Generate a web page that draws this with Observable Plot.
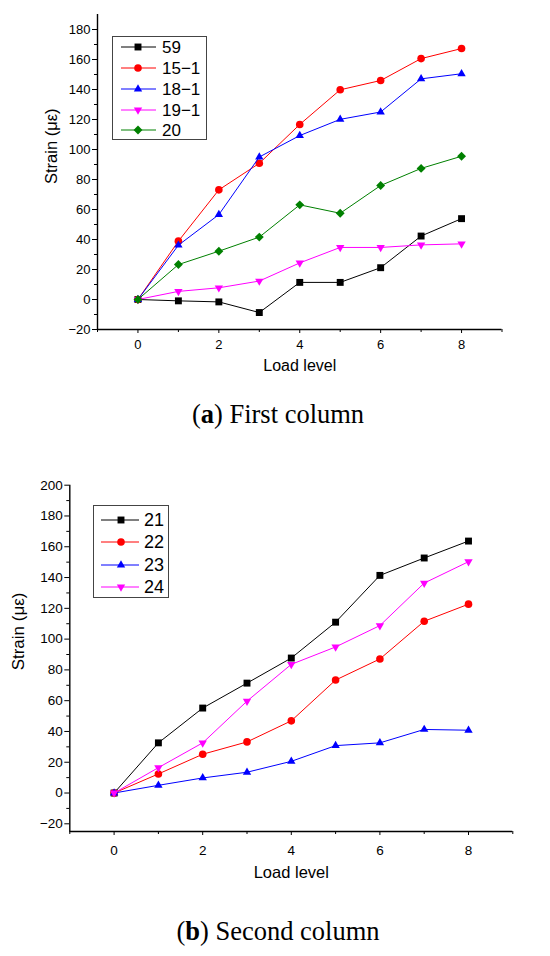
<!DOCTYPE html>
<html>
<head>
<meta charset="utf-8">
<script src="https://cdn.jsdelivr.net/npm/d3@7"></script>
<script src="https://cdn.jsdelivr.net/npm/@observablehq/plot@0.6"></script>
<style>
  body { margin: 0; background: white; }
  #page { position: relative; width: 550px; height: 956px; background: white; overflow: hidden; }
  .cap { position: absolute; left: 0; width: 556px; text-align: center; font-family: "Liberation Serif", serif; font-size: 26.5px; line-height: 26.5px; color: #000; }
  .pl { position: absolute; left: 0; }
  #legend { position: absolute; left: 0; top: 0; }
</style>
</head>
<body>
<div id="page">
  <div id="plotA" class="pl" style="top:0px"></div>
  <div class="cap" style="top:401px"><span>(<b>a</b>) First column</span></div>
  <div id="plotB" class="pl" style="top:470px"></div>
  <div class="cap" style="top:918px"><span>(<b>b</b>) Second column</span></div>
  <svg id="legend" width="550" height="956"></svg>
</div>
<script>
// ---- data ----
const loadLevels = [0, 1, 2, 3, 4, 5, 6, 7, 8];

const namesA = ["59", "15\u22121", "18\u22121", "19\u22121", "20"];
const s59   = [0, -0.9, -1.6, -8.7, 11.4, 11.4, 21.2, 42.3, 53.9];
const s15_1 = [0, 38.9, 73.1, 90.8, 116.7, 139.8, 146.0, 160.6, 167.3];
const s18_1 = [0, 36.2, 56.6, 95.0, 109.3, 120.1, 125.0, 147.1, 150.5];
const s19_1 = [0, 5.4, 7.8, 12.3, 24.4, 34.7, 34.7, 36.4, 37.1];
const s20   = [0, 23.3, 32.2, 41.6, 63.1, 57.5, 76.0, 87.4, 95.5];

const namesB = ["21", "22", "23", "24"];
const s21 = [0, 32.6, 55.2, 71.4, 87.7, 111.0, 141.4, 152.7, 163.7];
const s22 = [0, 12.4, 25.2, 33.2, 46.9, 73.4, 87.1, 111.6, 122.7];
const s23 = [0, 5.0, 9.8, 13.5, 20.6, 30.8, 32.6, 41.3, 40.8];
const s24 = [0, 16.5, 32.6, 59.7, 83.6, 94.9, 108.8, 136.4, 150.3];

const yTicksA = [-20, 0, 20, 40, 60, 80, 100, 120, 140, 160, 180];
const yTicksB = [-20, 0, 20, 40, 60, 80, 100, 120, 140, 160, 180, 200];
const xTicks = [0, 2, 4, 6, 8];
const xMinor = [-1, 1, 3, 5, 7, 9];

// ---- symbols ----
const triangleDown = {
  draw(ctx, size) {
    const y = Math.sqrt(size / (Math.sqrt(3) * 3));
    ctx.moveTo(0, 2 * y);
    ctx.lineTo(-Math.sqrt(3) * y, -y);
    ctx.lineTo(Math.sqrt(3) * y, -y);
    ctx.closePath();
  }
};
const symMap = {
  square: {sym: d3.symbolSquare, r: 3.9},
  circle: {sym: d3.symbolCircle, r: 3.8},
  triangle: {sym: d3.symbolTriangle, r: 3.1},
  triangleDown: {sym: triangleDown, r: 3.1},
  diamond: {sym: d3.symbolDiamond2, r: 4.0}
};

const seriesA = [
  {name: namesA[0], values: s59, color: "#000000", symbol: "square"},
  {name: namesA[1], values: s15_1, color: "#ff0000", symbol: "circle"},
  {name: namesA[2], values: s18_1, color: "#0000ff", symbol: "triangle"},
  {name: namesA[3], values: s19_1, color: "#ff00ff", symbol: "triangleDown"},
  {name: namesA[4], values: s20, color: "#008000", symbol: "diamond"}
];
const seriesB = [
  {name: namesB[0], values: s21, color: "#000000", symbol: "square"},
  {name: namesB[1], values: s22, color: "#ff0000", symbol: "circle"},
  {name: namesB[2], values: s23, color: "#0000ff", symbol: "triangle"},
  {name: namesB[3], values: s24, color: "#ff00ff", symbol: "triangleDown"}
];

function seriesMarks(series) {
  const marks = [];
  for (const s of series) {
    const rows = loadLevels.map((x, i) => ({x, y: s.values[i]}));
    const sm = symMap[s.symbol];
    marks.push(Plot.line(rows, {x: "x", y: "y", stroke: s.color, strokeWidth: 1}));
    marks.push(Plot.dot(rows, {x: "x", y: "y", fill: s.color, stroke: "none", symbol: sm.sym, r: sm.r}));
  }
  return marks;
}

function makeChart(cfg) {
  return Plot.plot({
    width: 550,
    height: cfg.height,
    marginTop: cfg.mt,
    marginLeft: cfg.ml,
    marginRight: cfg.mr,
    marginBottom: cfg.mb,
    style: {background: "white", color: "black", fontFamily: "'Liberation Sans', Arial, sans-serif", overflow: "visible"},
    x: {domain: [-1, 9]},
    y: {domain: cfg.ydomain},
    marks: [
      Plot.axisY({ticks: cfg.yTicks, tickSize: 5, tickPadding: 2, fontSize: cfg.fs, label: null}),
      Plot.axisY({ticks: cfg.yMinor, tickSize: 3, text: null, label: null}),
      Plot.axisX({ticks: xTicks, tickSize: 4, tickPadding: cfg.xpad, fontSize: cfg.fs, label: null}),
      Plot.axisX({ticks: xMinor, tickSize: 3, text: null, label: null}),
      Plot.ruleX([-1], {stroke: "black", strokeWidth: 1.4}),
      Plot.ruleY([cfg.ydomain[0]], {stroke: "black", strokeWidth: 1.4}),
      Plot.text(["Load level"], {frameAnchor: "bottom", dy: cfg.xlabDy, fontSize: cfg.labFs, fill: "black"}),
      Plot.text(["Strain (\u03bc\u03b5)"], {frameAnchor: "left", dx: cfg.ylabDx, dy: cfg.ylabDy, rotate: -90, fontSize: cfg.ylabFs, fill: "black"}),
      ...seriesMarks(cfg.series)
    ]
  });
}

const chartA = makeChart({
  height: 385, mt: 14, ml: 97, mr: 48.5, mb: 56,
  ydomain: [-20, 190], yTicks: yTicksA, yMinor: d3.range(-10, 190, 20),
  fs: 13, xpad: 6.5, xlabDy: 41, labFs: 16, ylabFs: 16.5, ylabDx: -46, ylabDy: 12,
  series: seriesA
});
document.getElementById("plotA").appendChild(chartA);

const chartB = makeChart({
  height: 420, mt: 14.7, ml: 69.3, mr: 37.7, mb: 59,
  ydomain: [-25, 200], yTicks: yTicksB, yMinor: d3.range(-10, 200, 20),
  fs: 13.5, xpad: 9.5, xlabDy: 46, labFs: 16.5, ylabFs: 17, ylabDx: -51, ylabDy: 12,
  series: seriesB
});
document.getElementById("plotB").appendChild(chartB);

// ---- legends ----
const legend = d3.select("#legend");
function drawLegend(series, box, rows, lx1, lx2, mx, tx, fs) {
  legend.append("rect").attr("x", box[0] + 0.5).attr("y", box[1] + 0.5)
    .attr("width", box[2]).attr("height", box[3])
    .attr("fill", "white").attr("stroke", "#444").attr("stroke-width", 1);
  series.forEach((s, i) => {
    const y = rows[i];
    const sm = symMap[s.symbol];
    legend.append("line").attr("x1", lx1).attr("x2", lx2).attr("y1", y).attr("y2", y)
      .attr("stroke", s.color).attr("stroke-width", 1);
    legend.append("path").attr("transform", `translate(${mx},${y})`)
      .attr("d", d3.symbol(sm.sym, sm.r * sm.r * Math.PI)()).attr("fill", s.color);
    legend.append("text").attr("x", tx).attr("y", y).attr("dy", "0.36em")
      .attr("font-family", "'Liberation Sans', Arial, sans-serif").attr("font-size", fs)
      .attr("fill", "black").text(s.name);
  });
}
drawLegend(seriesA, [112, 36, 94, 103], [47, 68, 89, 110, 130], 121, 156, 138, 162, 17);
drawLegend(seriesB, [93, 505, 75, 92], [520, 542, 565, 587], 101, 139, 121, 144, 18);
</script>
</body>
</html>
